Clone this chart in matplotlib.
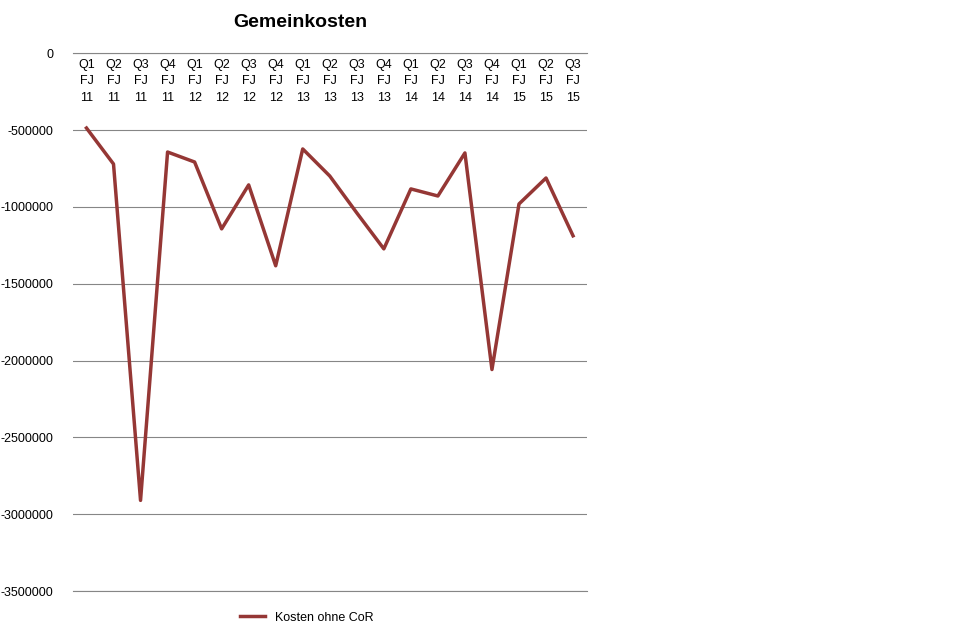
import matplotlib
matplotlib.use('Agg')
import matplotlib.pyplot as plt

quarters = ['Q1\nFJ\n11', 'Q2\nFJ\n11', 'Q3\nFJ\n11', 'Q4\nFJ\n11',
            'Q1\nFJ\n12', 'Q2\nFJ\n12', 'Q3\nFJ\n12', 'Q4\nFJ\n12',
            'Q1\nFJ\n13', 'Q2\nFJ\n13', 'Q3\nFJ\n13', 'Q4\nFJ\n13',
            'Q1\nFJ\n14', 'Q2\nFJ\n14', 'Q3\nFJ\n14', 'Q4\nFJ\n14',
            'Q1\nFJ\n15', 'Q2\nFJ\n15', 'Q3\nFJ\n15']
kosten = [-487000, -721000, -2909000, -643000, -708000, -1143000, -857000,
          -1383000, -623000, -799000, -1039000, -1273000, -883000, -929000,
          -649000, -2058000, -981000, -812000, -1188000]

plt.rcParams['font.family'] = ['Liberation Sans', 'DejaVu Sans']
fig = plt.figure(figsize=(9.6, 6.33), dpi=100)
ax = fig.add_axes([0.076, 0.066, 0.535, 0.85])

x = range(len(kosten))
ax.plot(x, kosten, color='#953735', linewidth=2.5, label='Kosten ohne CoR')
ax.set_xlim(-0.5, len(kosten) - 0.5)
ax.set_ylim(-3500000, 0)
ax.set_yticks(range(-3500000, 1, 500000))
ax.set_yticklabels([str(v) for v in range(-3500000, 1, 500000)], fontsize=9)
ax.yaxis.grid(True, color='#868686', linewidth=0.8)
ax.set_axisbelow(True)
ax.tick_params(axis='y', length=0, pad=14)

ax.xaxis.tick_top()
ax.set_xticks(list(x))
ax.set_xticklabels(quarters, fontsize=9, linespacing=1.5, va='top')
ax.tick_params(axis='x', length=0, pad=-4, direction='in')

for s in ['left', 'right']:
    ax.spines[s].set_visible(False)
ax.spines['top'].set_color('#868686')
ax.spines['bottom'].set_color('#868686')
ax.spines['bottom'].set_linewidth(0.8)

fig.text(0.313, 0.965, 'Gemeinkosten', ha='center', va='center',
         fontsize=14, fontweight='bold')
fig.legend(loc='center', bbox_to_anchor=(0.32, 0.024), frameon=False,
           fontsize=9)

fig.savefig('out.png', dpi=100)
